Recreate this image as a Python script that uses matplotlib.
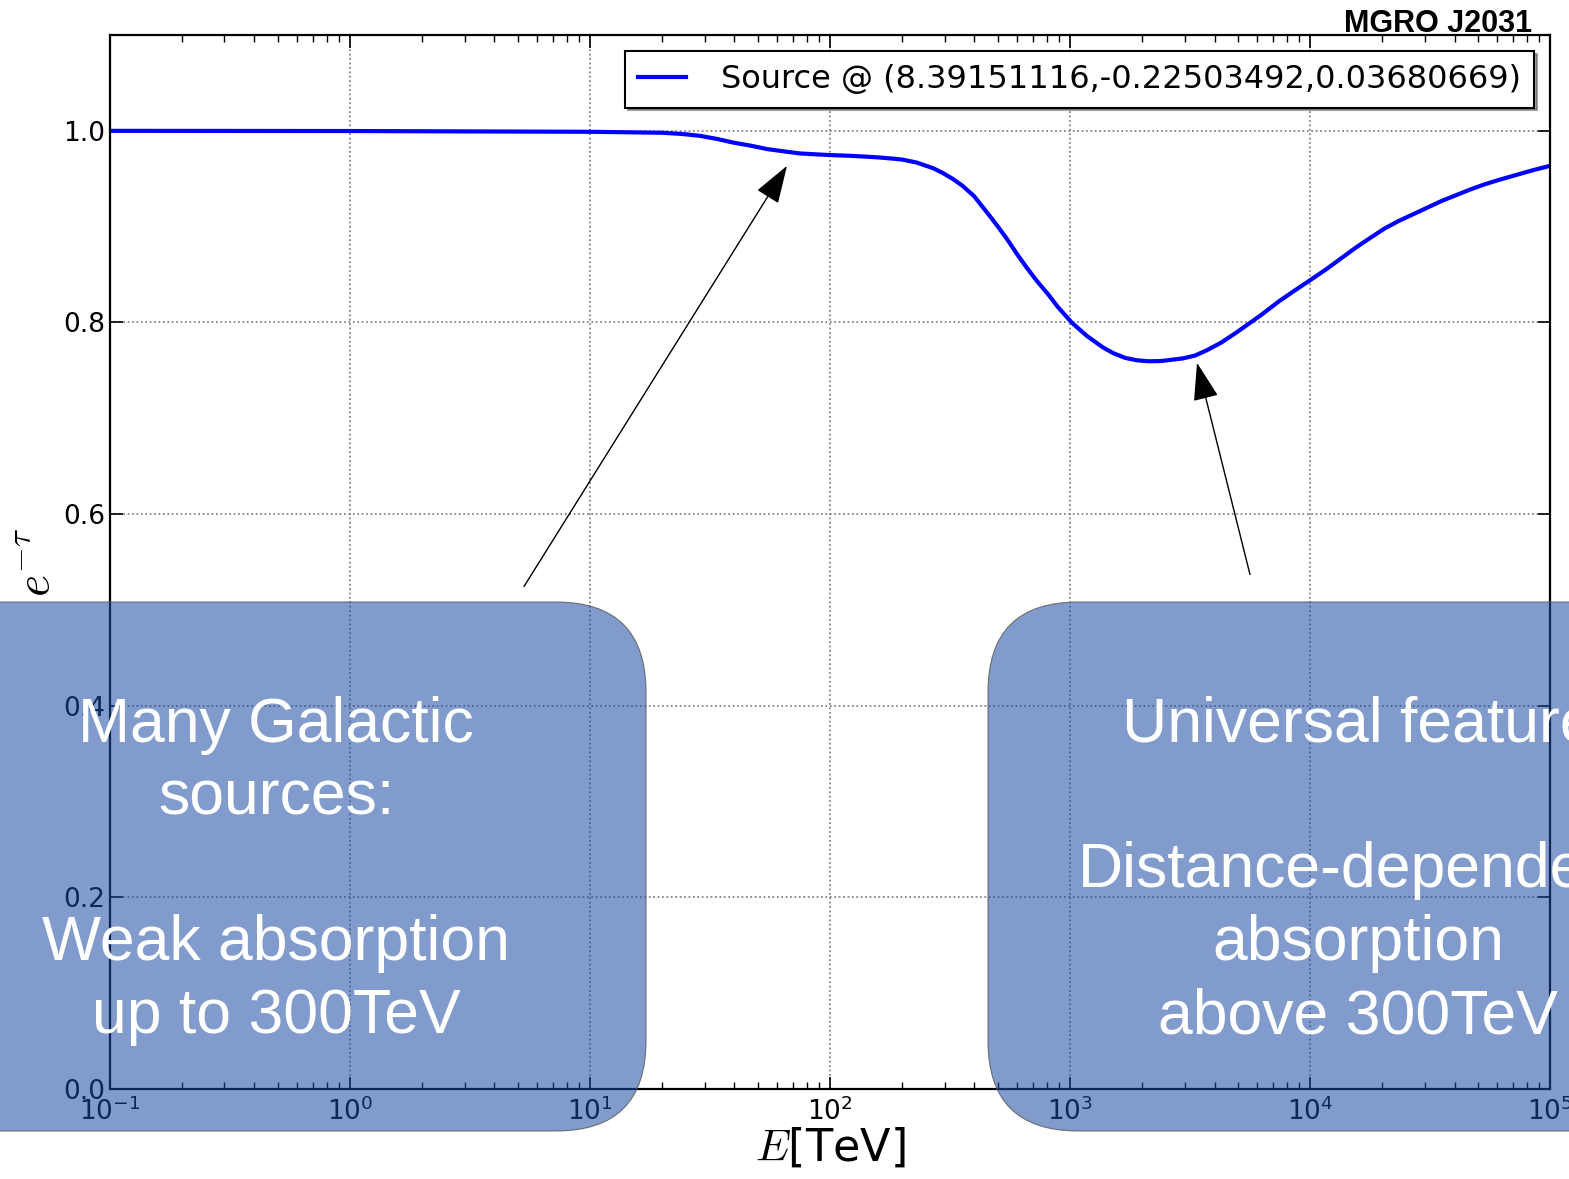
import matplotlib
matplotlib.use("Agg")
import matplotlib.pyplot as plt
from matplotlib.patches import FancyBboxPatch

# -------------------------------
# Data
# -------------------------------

energy_tev = [0.1, 1.0, 10.0, 20.0, 24.0, 28.7, 33.9, 39.4, 46.8, 54.6, 64.6,
              75.0, 87.0, 100.0, 120.0, 142.6, 158.5, 183.0, 200.0, 229.0,
              245.0, 269.0, 295.0, 324.0, 355.0, 398.0, 457.0, 501.0, 550.0,
              603.0, 659.0, 724.0, 813.0, 891.0, 1016.0, 1175.0, 1371.0,
              1514.0, 1700.0, 1905.0, 2138.0, 2399.0, 2630.0, 2951.0, 3311.0,
              3715.0, 4266.0, 4898.0, 5546.0, 6310.0, 7413.0, 8710.0, 10190.0,
              11750.0, 13490.0, 15490.0, 17950.0, 20420.0, 23440.0, 26920.0,
              30900.0, 35480.0, 40740.0, 46770.0, 53700.0, 61660.0, 72440.0,
              85110.0, 100000.0]
attenuation = [1.0, 0.9998, 0.999, 0.998, 0.9968, 0.9948, 0.9915, 0.9878,
               0.9845, 0.981, 0.9785, 0.9764, 0.9755, 0.9747, 0.974, 0.973,
               0.9723, 0.971, 0.970, 0.967, 0.9645, 0.961, 0.956, 0.950, 0.943,
               0.932, 0.913, 0.900, 0.886, 0.871, 0.8575, 0.844, 0.829, 0.816,
               0.800, 0.786, 0.774, 0.768, 0.763, 0.7605, 0.7595, 0.7598,
               0.761, 0.7625, 0.7654, 0.771, 0.779, 0.789, 0.7985, 0.8085,
               0.822, 0.834, 0.8454, 0.856, 0.867, 0.878, 0.8888, 0.898, 0.906,
               0.913, 0.920, 0.927, 0.933, 0.939, 0.9444, 0.949, 0.954, 0.959,
               0.9635]

legend_label = "Source @ (8.39151116,-0.22503492,0.03680669)"
title_text = "MGRO J2031"
left_box_text = "Many Galactic\nsources:\n\nWeak absorption\nup to 300TeV"
right_box_text = "Universal feature\n\nDistance-dependent\nabsorption\nabove 300TeV"

plt.rcParams["mathtext.fontset"] = "cm"
plt.rcParams["axes.unicode_minus"] = False

# -------------------------------
# Figure and axes
# -------------------------------

fig = plt.figure(figsize=(15.69, 11.79), dpi=100)
ax = fig.add_axes([0.0701, 0.0763, 0.9178, 0.894])

ax.plot(energy_tev, attenuation, color="blue", lw=3, label=legend_label)
ax.set_xscale("log")
ax.set_xlim(0.1, 1e5)
ax.set_ylim(0, 1.1)
ax.set_yticks([0.0, 0.2, 0.4, 0.6, 0.8, 1.0])

ax.grid(True, which="major", ls=":", color="0.45", lw=1.2)
ax.tick_params(which="both", direction="in", top=True, right=True, labelsize=19)
ax.tick_params(axis="x", which="major", pad=6)
ax.tick_params(which="major", length=9, width=1.2)
ax.tick_params(which="minor", length=5, width=1)
for s in ax.spines.values():
    s.set_linewidth(1.6)

ax.set_xlabel("$E$[TeV]", fontsize=32, labelpad=0)
ax.set_ylabel(r"$e^{-\tau}$", fontsize=34, labelpad=2)

leg = ax.legend(loc="upper right", fontsize=23, shadow=True, fancybox=False,
                handlelength=1.5, handletextpad=1.1, borderpad=0.4)
leg.get_frame().set_edgecolor("black")
leg.get_frame().set_linewidth(1.5)

# arrows pointing at the features
arrow_style = dict(arrowstyle="-|>,head_length=0.48,head_width=0.16",
                   mutation_scale=50, color="black", lw=1, shrinkA=0, shrinkB=0)
ax.annotate("", xy=(66.2, 0.9635), xytext=(5.31, 0.5245), arrowprops=arrow_style)
ax.annotate("", xy=(3381, 0.758), xytext=(5623, 0.537), arrowprops=arrow_style)

fig.text(0.9764, 0.980, title_text, ha="right", va="center",
         fontsize=22, fontweight="bold", family="Liberation Sans")

# -------------------------------
# Overlay boxes (slide callouts)
# -------------------------------

box_face = (24 / 255, 73 / 255, 162 / 255, 0.55)
box_edge = (0.35, 0.35, 0.35, 0.8)
for x0, w in [(-2.0, 8.46), (9.88, 8.0)]:
    box = FancyBboxPatch((x0, 0.48), w, 5.29,
                         boxstyle="round,pad=0,rounding_size=0.9",
                         transform=fig.dpi_scale_trans,
                         facecolor=box_face, edgecolor=box_edge, lw=0.8,
                         zorder=10)
    fig.add_artist(box)

fig.text(276 / 1569, 1 - 871 / 1179, left_box_text, ha="center", va="center",
         multialignment="center", color="white", fontsize=45,
         family="Liberation Sans", linespacing=1.3, zorder=11)
fig.text(1358 / 1569, 1 - 871 / 1179, right_box_text, ha="center", va="center",
         multialignment="center", color="white", fontsize=45,
         family="Liberation Sans", linespacing=1.3, zorder=11)

fig.savefig("out.png", dpi=100)
